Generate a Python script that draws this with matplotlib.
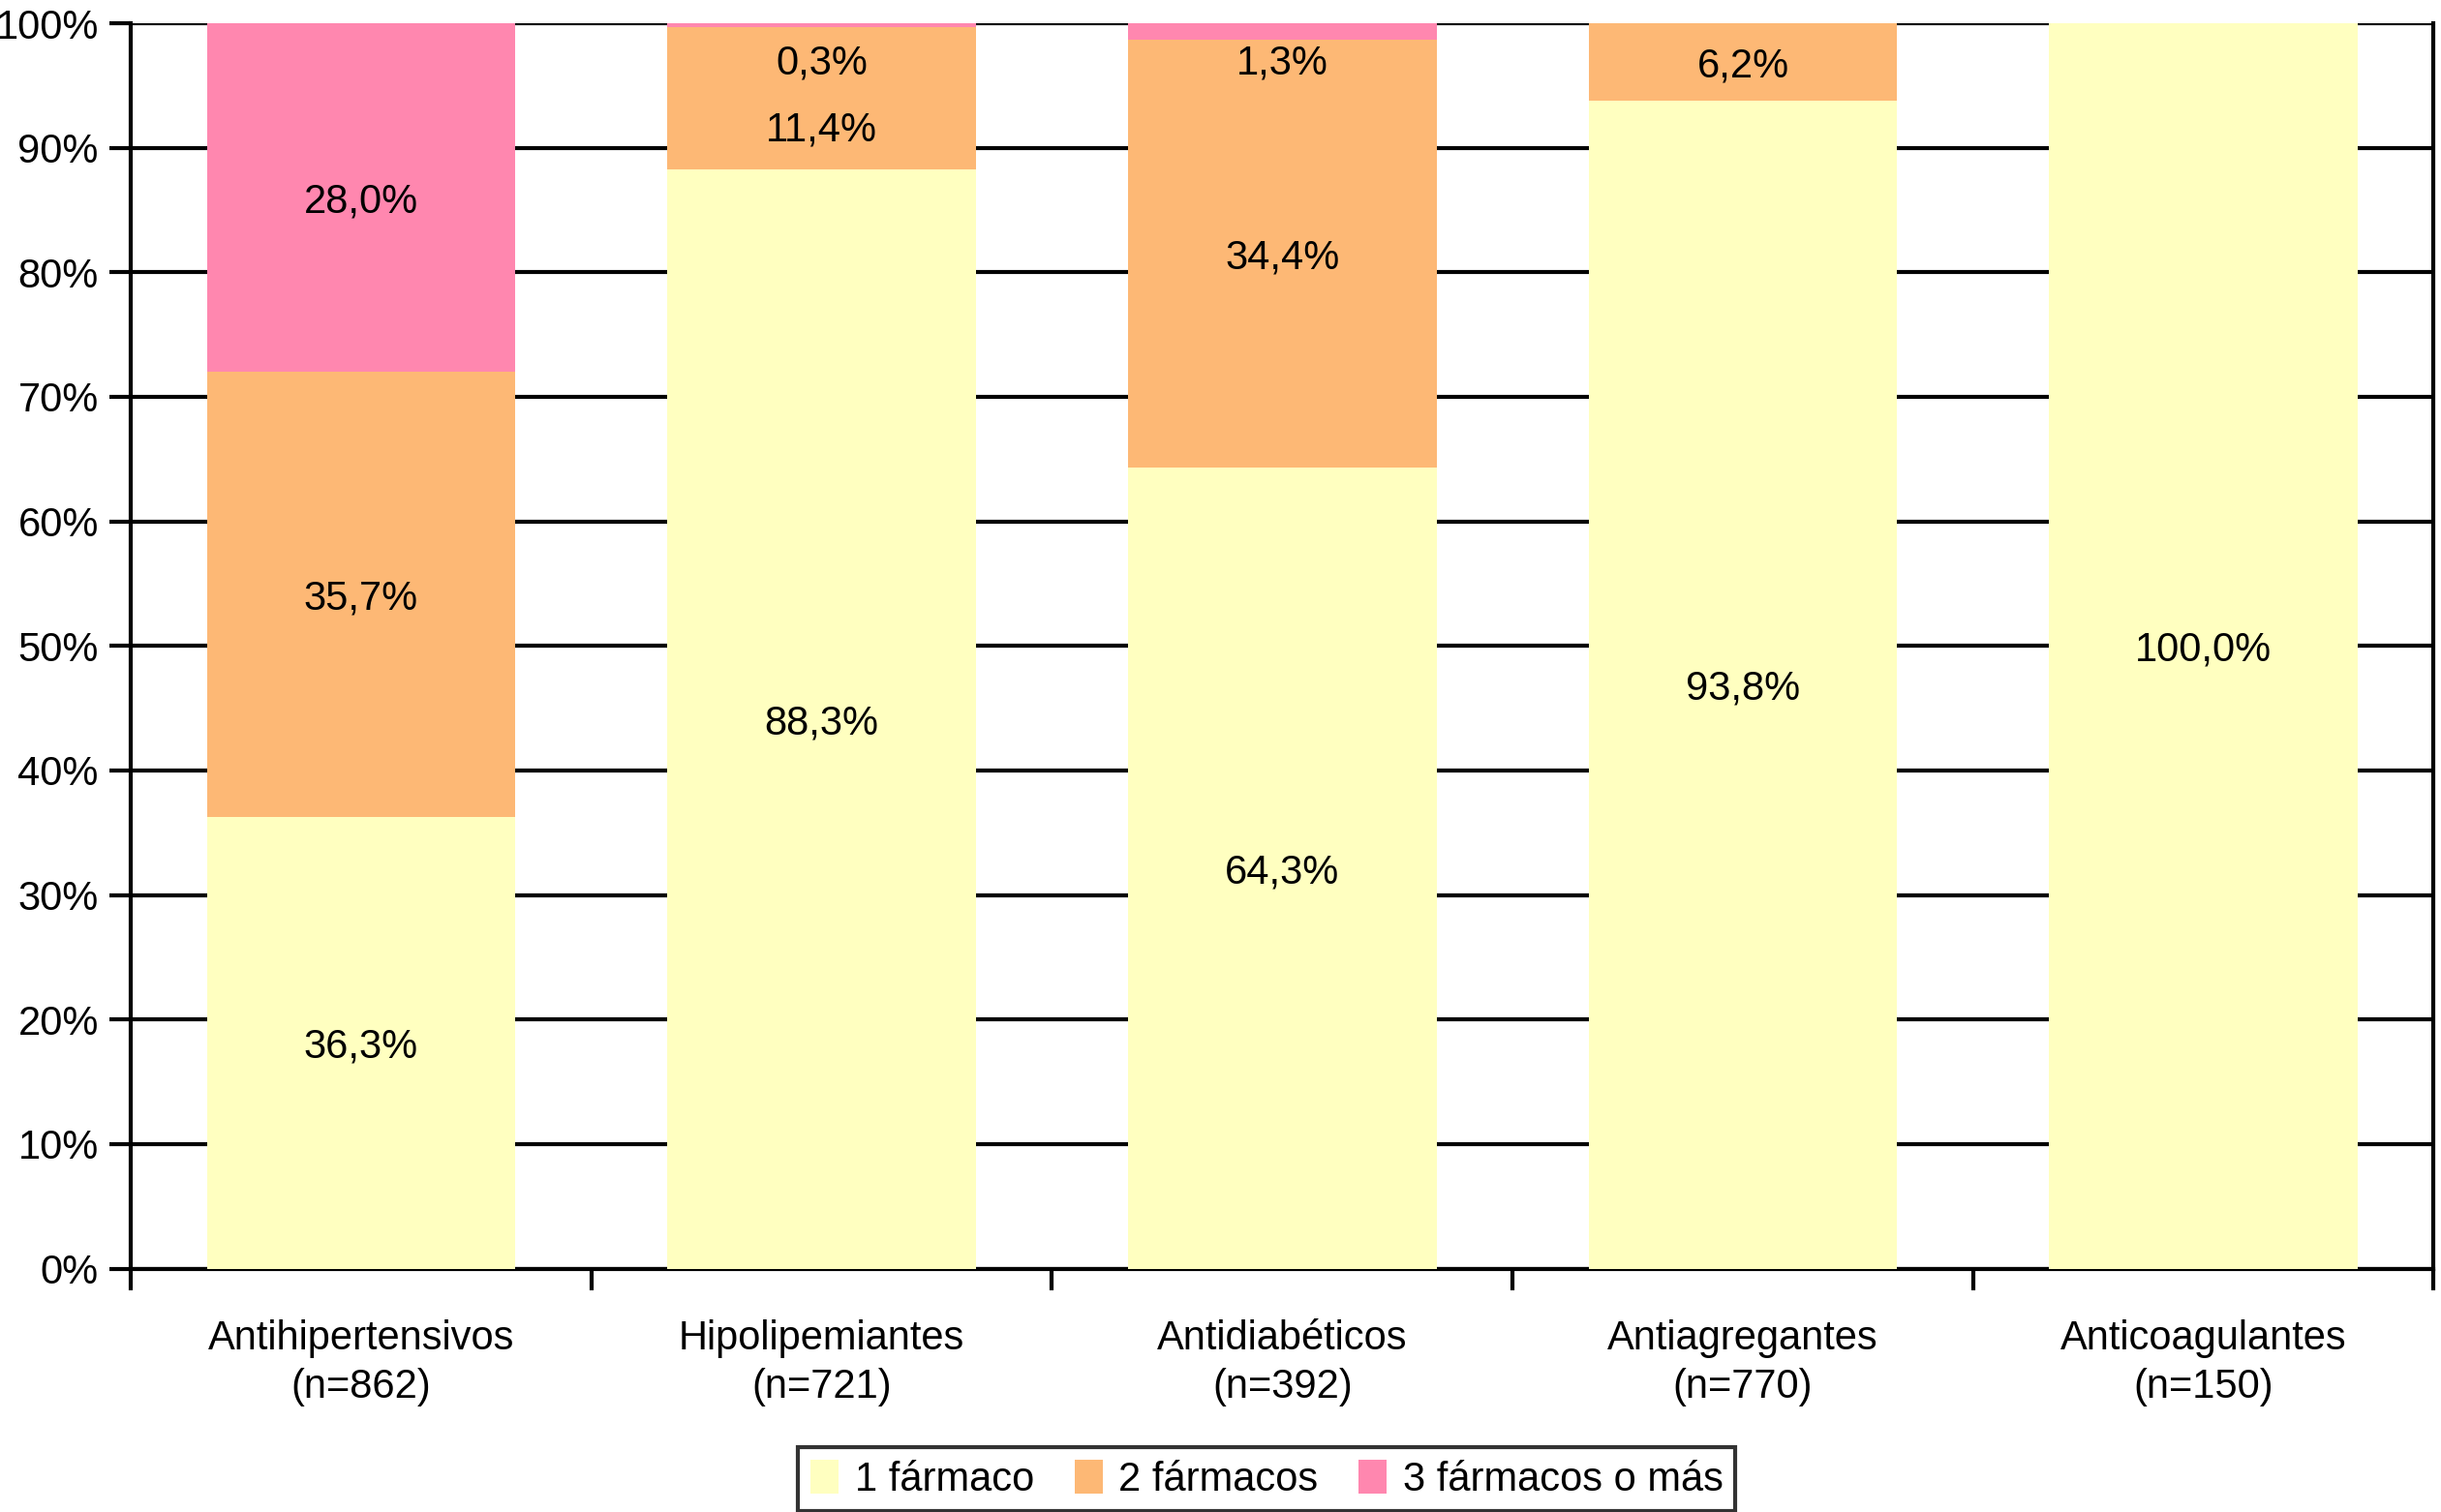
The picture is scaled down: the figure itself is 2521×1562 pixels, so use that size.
import numpy as np
import matplotlib
matplotlib.use("Agg")
import matplotlib.pyplot as plt
from matplotlib.ticker import FixedLocator

plt.rcParams["font.family"] = ["Liberation Sans", "DejaVu Sans"]

categorias = ["Antihipertensivos\n(n=862)", "Hipolipemiantes\n(n=721)",
              "Antidiabéticos\n(n=392)", "Antiagregantes\n(n=770)",
              "Anticoagulantes\n(n=150)"]
un_farmaco = [36.3, 88.3, 64.3, 93.8, 100.0]
dos_farmacos = [35.7, 11.4, 34.4, 6.2, 0.0]
tres_farmacos = [28.0, 0.3, 1.3, 0.0, 0.0]
series_nombres = ["1 fármaco", "2 fármacos", "3 fármacos o más"]
colores = ["#FFFFC0", "#FDB875", "#FF87AF"]

fig = plt.figure(figsize=(25.21, 15.62), dpi=100)
ax = fig.add_axes([0.0536, 0.161, 0.9434, 0.8236])

x = np.arange(len(categorias))
series = [un_farmaco, dos_farmacos, tres_farmacos]
bottom = np.zeros(len(categorias))
centros = []
for vals, nombre, col in zip(series, series_nombres, colores):
    vals = np.array(vals)
    ax.bar(x, vals, bottom=bottom, width=0.67, color=col, label=nombre,
           zorder=3, linewidth=0)
    centros.append(bottom + vals / 2)
    bottom = bottom + vals

# etiquetas de valor (como Excel: se desplazan si no caben)
for i in range(len(categorias)):
    etiquetas = []
    for s, vals in enumerate(series):
        if vals[i] > 0:
            etiquetas.append([min(centros[s][i], 97.1), vals[i]])
    for k in range(len(etiquetas) - 2, -1, -1):
        if etiquetas[k + 1][0] - etiquetas[k][0] < 5.3:
            etiquetas[k][0] = etiquetas[k + 1][0] - 5.3
    for ypos, v in etiquetas:
        ax.text(x[i], ypos, f"{v:.1f}%".replace(".", ","), ha="center",
                va="center_baseline", fontsize=30, zorder=4)

ax.set_xlim(-0.5, len(categorias) - 0.5)
ax.set_ylim(0, 100)
ax.set_yticks(np.arange(0, 101, 10))
ax.set_yticklabels([f"{v}%" for v in range(0, 101, 10)], fontsize=30)
ax.yaxis.grid(True, color="black", linewidth=3, zorder=0)
ax.set_axisbelow(True)

ax.set_xticks(x)
ax.set_xticklabels(categorias, fontsize=30, linespacing=1.3)
ax.tick_params(axis="x", length=0, pad=38)
ax.xaxis.set_minor_locator(FixedLocator(np.arange(-0.5, len(categorias), 1)))
ax.tick_params(axis="x", which="minor", length=16, width=3, direction="out")
ax.tick_params(axis="y", length=16, width=3, pad=8)

for lado in ["left", "bottom", "right", "top"]:
    ax.spines[lado].set_linewidth(3)
    ax.spines[lado].set_color("black")
ax.spines["top"].set_visible(False)

leg = fig.legend(loc="center", bbox_to_anchor=(0.519, 0.0216), ncol=3,
                 fontsize=30, frameon=True, fancybox=False, handlelength=0.7,
                 handleheight=0.9, handletextpad=0.4, columnspacing=1.0,
                 borderpad=0.3)
leg.get_frame().set_edgecolor("black")
leg.get_frame().set_linewidth(3)

fig.savefig("out.png", dpi=100)
